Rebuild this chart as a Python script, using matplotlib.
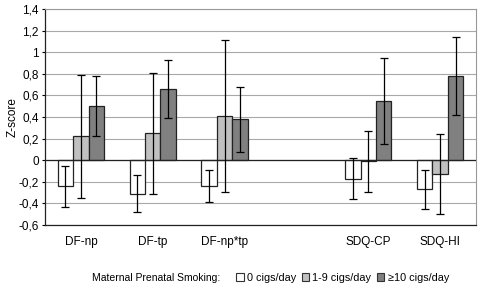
import matplotlib
matplotlib.use("Agg")
import matplotlib.pyplot as plt
import numpy as np
from matplotlib.patches import Patch

plt.rcParams['font.family'] = ['Liberation Sans', 'DejaVu Sans']

categories = ["DF-np", "DF-tp", "DF-np*tp", "", "SDQ-CP", "SDQ-HI"]
series_names = ["0 cigs/day", "1-9 cigs/day", "\u226510 cigs/day"]
vals_0 = [-0.24, -0.31, -0.24, None, -0.17, -0.27]
vals_19 = [0.22, 0.25, 0.41, None, -0.01, -0.13]
vals_10 = [0.50, 0.66, 0.38, None, 0.55, 0.78]
err_0 = [0.19, 0.17, 0.15, None, 0.19, 0.18]
err_19 = [0.57, 0.56, 0.70, None, 0.28, 0.37]
err_10 = [0.28, 0.27, 0.30, None, 0.40, 0.36]
yticks = [-0.6, -0.4, -0.2, 0, 0.2, 0.4, 0.6, 0.8, 1, 1.2, 1.4]
ytick_labels = ["-0,6", "-0,4", "-0,2", "0", "0,2", "0,4", "0,6", "0,8", "1", "1,2", "1,4"]

colors = ["#ffffff", "#c0c0c0", "#808080"]

fig = plt.figure(figsize=(4.78, 2.86), dpi=100)
ax = fig.add_axes([45/478, 61/286, 431/478, 216/286])

w = 0.215
offs = [-w, 0, w]
for vals, errs, col, off in zip([vals_0, vals_19, vals_10], [err_0, err_19, err_10], colors, offs):
    xs = [i + off for i, v in enumerate(vals) if v is not None]
    vs = [v for v in vals if v is not None]
    es = [e for e in errs if e is not None]
    ax.bar(xs, vs, width=w, color=col, edgecolor="#222222", linewidth=0.9, zorder=3)
    ax.errorbar(xs, vs, yerr=es, fmt="none", ecolor="black", elinewidth=0.9,
                capsize=3, capthick=0.9, zorder=4)

ax.set_xlim(-0.5, 5.5)
ax.set_ylim(-0.6, 1.4)
ax.set_yticks(yticks)
ax.set_yticklabels(ytick_labels, fontsize=8.5)
ax.set_xticks(range(len(categories)))
ax.set_xticklabels(categories, fontsize=8.5)
ax.tick_params(axis="x", length=0, pad=8)
ax.tick_params(axis="y", length=2.5, width=0.8, pad=2)
ax.grid(axis="y", color="#a8a8a8", linewidth=0.8, zorder=0)
ax.axhline(0, color="#222222", linewidth=0.9, zorder=3.5)
ax.set_ylabel("Z-score", fontsize=8.5)
ax.yaxis.set_label_coords(-0.062, 0.5)
for s in ["top", "right"]:
    ax.spines[s].set_color("#999999")
    ax.spines[s].set_linewidth(0.8)
for s in ["left", "bottom"]:
    ax.spines[s].set_color("#222222")
    ax.spines[s].set_linewidth(0.9)

fig.text(92/478, 1 - 278/286, "Maternal Prenatal Smoking:", fontsize=7.5, va="center", ha="left")
handles = [Patch(facecolor=c, edgecolor="#333333", linewidth=0.8) for c in colors]
fig.legend(handles, series_names, loc="center left", bbox_to_anchor=(236/478, 1 - 278/286),
           ncol=3, frameon=False, fontsize=7.8, handlelength=0.7, handleheight=0.7,
           handletextpad=0.3, columnspacing=0.5, borderpad=0, borderaxespad=0)

fig.savefig("out.png", dpi=100)
